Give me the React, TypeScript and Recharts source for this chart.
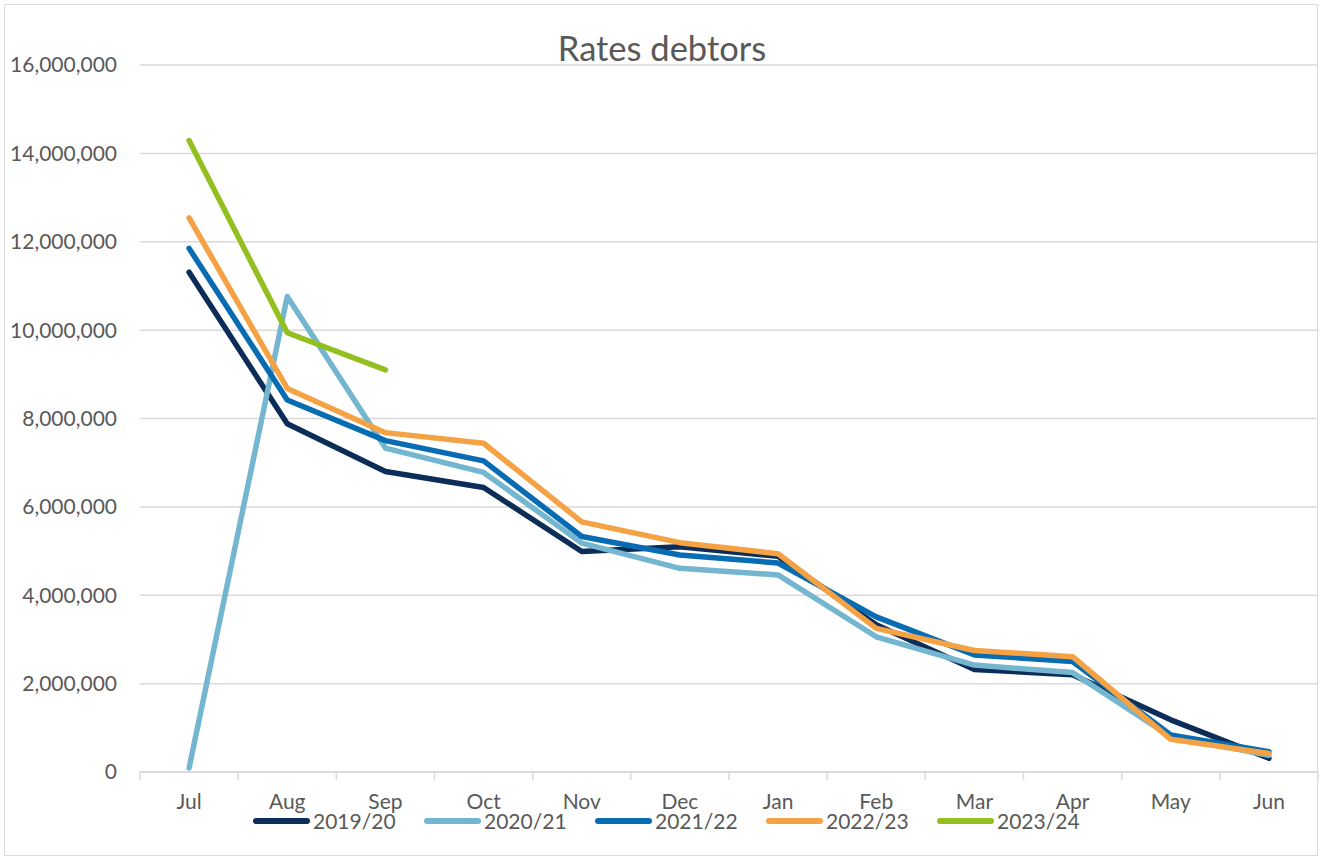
import React from 'react';
import { LineChart, Line, XAxis, YAxis, CartesianGrid } from 'recharts';

const months = ['Jul', 'Aug', 'Sep', 'Oct', 'Nov', 'Dec', 'Jan', 'Feb', 'Mar', 'Apr', 'May', 'Jun'];
const fy1920 = [11310000, 7880000, 6800000, 6440000, 4990000, 5100000, 4880000, 3330000, 2320000, 2200000, 1180000, 310000];
const fy2021 = [90000, 10760000, 7330000, 6780000, 5180000, 4610000, 4460000, 3060000, 2420000, 2250000, 800000, 380000];
const fy2122 = [11850000, 8420000, 7500000, 7040000, 5330000, 4910000, 4730000, 3510000, 2650000, 2500000, 840000, 460000];
const fy2223 = [12540000, 8680000, 7680000, 7440000, 5660000, 5190000, 4940000, 3250000, 2750000, 2610000, 740000, 420000];
const fy2324 = [14290000, 9940000, 9100000, null, null, null, null, null, null, null, null, null];
const yTicks = [0, 2000000, 4000000, 6000000, 8000000, 10000000, 12000000, 14000000, 16000000];

const seriesDefs = [
  { key: 'fy1920', name: '2019/20', values: fy1920, color: '#0C2D57' },
  { key: 'fy2021', name: '2020/21', values: fy2021, color: '#74B6D0' },
  { key: 'fy2122', name: '2021/22', values: fy2122, color: '#086CB3' },
  { key: 'fy2223', name: '2022/23', values: fy2223, color: '#F5A245' },
  { key: 'fy2324', name: '2023/24', values: fy2324, color: '#93C01F' },
];

const data = months.map((m, i) => {
  const row: any = { month: m };
  seriesDefs.forEach((s) => {
    row[s.key] = s.values[i];
  });
  return row;
});

const FONT = 'Lato, "Open Sans", sans-serif';
const TEXT = '#595959';
const GRID = '#d9d9d9';

const XTick = (props: any) => {
  const { x, y, payload, index, visibleTicksCount } = props;
  const off = payload && payload.offset ? payload.offset : 49;
  const isLast = index === (visibleTicksCount ? visibleTicksCount - 1 : months.length - 1);
  return (
    <g>
      <line x1={x - off} x2={x - off} y1={y} y2={y + 8} stroke={GRID} strokeWidth={1.5} />
      {isLast && <line x1={x + off} x2={x + off} y1={y} y2={y + 8} stroke={GRID} strokeWidth={1.5} />}
      <text x={x} y={y + 37} textAnchor="middle" fill={TEXT} fontSize={21} fontFamily={FONT}>
        {payload.value}
      </text>
    </g>
  );
};

export default function App() {
  return (
    <div style={{ position: 'absolute', left: 0, top: 0, width: 1322, height: 858, background: '#fff' }}>
      <div
        style={{
          position: 'absolute',
          left: 4,
          top: 4,
          width: 1314,
          height: 852,
          border: `1.5px solid ${GRID}`,
          boxSizing: 'border-box',
        }}
      />
      <div
        style={{
          position: 'absolute',
          left: 0,
          top: 30,
          width: 1324,
          textAlign: 'center',
          fontFamily: FONT,
          fontSize: 34.5,
          lineHeight: '35px',
          color: TEXT,
        }}
      >
        Rates debtors
      </div>
      <div style={{ position: 'absolute', left: 0, top: 0 }}>
        <LineChart width={1322} height={858} data={data} margin={{ top: 65, right: 4, bottom: 0, left: 0 }}>
          <CartesianGrid vertical={false} stroke={GRID} strokeWidth={1.5} />
          <XAxis
            dataKey="month"
            scale="band"
            height={86}
            tickSize={0}
            tickMargin={0}
            tickLine={false}
            axisLine={{ stroke: GRID, strokeWidth: 1.5 }}
            tick={<XTick />}
            interval={0}
          />
          <YAxis
            width={140}
            domain={[0, 16000000]}
            ticks={yTicks}
            interval={0}
            tickSize={0}
            tickMargin={23}
            axisLine={false}
            tickLine={false}
            tick={{ fill: TEXT, fontSize: 21, fontFamily: FONT }}
            tickFormatter={(v: number) => v.toLocaleString('en-US')}
          />
          {seriesDefs.map((s) => (
            <Line
              key={s.key}
              type="linear"
              dataKey={s.key}
              name={s.name}
              stroke={s.color}
              strokeWidth={5.5}
              strokeLinecap="round"
              strokeLinejoin="round"
              dot={false}
              activeDot={false}
              connectNulls={false}
              isAnimationActive={false}
            />
          ))}
        </LineChart>
      </div>
      <div
        style={{
          position: 'absolute',
          left: 253,
          top: 808,
          display: 'flex',
          alignItems: 'center',
          fontFamily: FONT,
          fontSize: 21,
          color: TEXT,
          lineHeight: '26px',
        }}
      >
        {seriesDefs.map((s, i) => (
          <div
            key={s.key}
            style={{ display: 'flex', alignItems: 'center', width: i < seriesDefs.length - 1 ? 171 : undefined }}
          >
            <div style={{ width: 57, height: 6, borderRadius: 3, background: s.color, marginRight: 3 }} />
            <span>{s.name}</span>
          </div>
        ))}
      </div>
    </div>
  );
}
